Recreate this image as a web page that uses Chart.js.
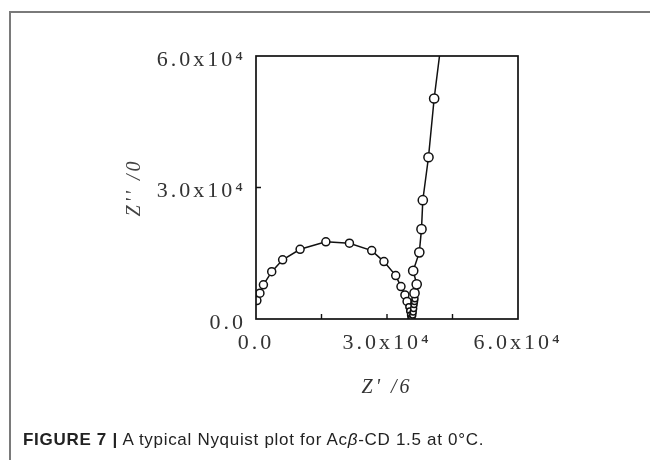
<!DOCTYPE html>
<html>
<head>
<meta charset="utf-8">
<script src="https://cdn.jsdelivr.net/npm/chart.js@4.4.1/dist/chart.umd.min.js"></script>
<style>
  html, body { margin: 0; padding: 0; background: #fff; }
  #wrap { position: relative; width: 650px; height: 460px; overflow: hidden; }
  #plot { position: absolute; left: 0; top: 0; }
  .frame {
    position: absolute; left: 9px; top: 11px; width: 660px; height: 470px;
    border-top: 2px solid #7a7a7a; border-left: 2px solid #7a7a7a;
  }
  .caption {
    position: absolute; left: 23px; top: 430px;
    font-family: "Liberation Sans", Arial, sans-serif; font-size: 17px; color: #222;
    letter-spacing: 0.7px; white-space: nowrap;
  }
  .caption b { font-weight: bold; }
</style>
</head>
<body>
<div id="wrap">
  <div class="frame"></div>
  <canvas id="plot" width="650" height="460"></canvas>
  <div class="caption"><b>FIGURE 7 |</b> A typical Nyquist plot for Ac<i>β</i>-CD 1.5 at 0°C.</div>
</div>
<script>
// impedance spectrum: real part Z' and imaginary part -Z'' (ohm)
const zReal = [
  200, 900, 1700, 3600, 6100, 10100, 16000, 21400, 26500, 29300, 32000, 33200, 34100,
  34600, 35000, 35200, 35400, 35500, 35700, 35900, 36000, 36100, 36200, 36300, 36400,
  36300, 36800, 36000, 37400, 37900, 38200, 39500, 40800, 42400
];
const zImag = [
  4200, 5900, 7800, 10800, 13500, 15900, 17600, 17300, 15600, 13100, 9900, 7400, 5500,
  4000, 2800, 1800, 900, 200, 300, 900, 1600, 2400, 3300, 4000, 4600,
  5900, 7900, 11000, 15200, 20500, 27100, 36900, 50300, 63000
];
const xTicks = [0, 15000, 30000, 45000, 60000];
const yTicks = [0, 30000, 60000];

const points = zReal.map((x, i) => ({ x: x, y: zImag[i] }));

function sciLabel(v) {
  if (v === 0) return '0.0';
  if (v % 30000 !== 0) return '';
  return (v / 10000).toFixed(1) + 'x10\u2074';
}

// closed box round the plot area with short inward tick marks
const boxAndTicks = {
  id: 'boxAndTicks',
  beforeDraw(chart) {
    chart.ctx.letterSpacing = '3px';
  },
  afterDatasetsDraw(chart) {
    const { ctx, chartArea: a, scales } = chart;
    ctx.save();
    ctx.strokeStyle = '#111';
    ctx.lineWidth = 1.7;
    ctx.strokeRect(a.left, a.top, a.right - a.left, a.bottom - a.top);
    ctx.lineWidth = 1.4;
    ctx.beginPath();
    scales.x.ticks.forEach(t => {
      const px = scales.x.getPixelForValue(t.value);
      if (px <= a.left + 1 || px >= a.right - 1) return;
      ctx.moveTo(px, a.bottom);
      ctx.lineTo(px, a.bottom - 5);
    });
    scales.y.ticks.forEach(t => {
      const py = scales.y.getPixelForValue(t.value);
      if (py <= a.top + 1 || py >= a.bottom - 1) return;
      ctx.moveTo(a.left, py);
      ctx.lineTo(a.left + 5, py);
    });
    ctx.stroke();
    ctx.restore();
  }
};

const serif = '"Liberation Serif", "Times New Roman", serif';

new Chart(document.getElementById('plot'), {
  type: 'scatter',
  data: {
    datasets: [{
      data: points,
      showLine: true,
      borderColor: '#111',
      borderWidth: 1.5,
      backgroundColor: '#fff',
      pointBorderColor: '#111',
      pointBackgroundColor: '#fff',
      pointBorderWidth: 1.5,
      pointRadius: ctx => {
        const i = ctx.dataIndex;
        if (i === zReal.length - 1) return 0;
        if (i >= 14 && i <= 24) return 3;
        return i > 24 ? 4.6 : 4;
      },
      tension: 0
    }]
  },
  options: {
    responsive: false,
    animation: false,
    layout: { padding: { left: 110, right: 132, top: 56, bottom: 51 } },
    plugins: {
      legend: { display: false },
      tooltip: { enabled: false }
    },
    scales: {
      x: {
        type: 'linear',
        min: 0,
        max: 60000,
        afterBuildTicks: s => { s.ticks = xTicks.map(v => ({ value: v })); },
        afterFit: s => { s.height = 90; },
        grid: { display: false, drawTicks: false },
        border: { display: false },
        ticks: {
          padding: 11,
          color: '#333',
          font: { family: serif, size: 22 },
          maxRotation: 0,
          autoSkip: false,
          callback: v => sciLabel(v)
        },
        title: {
          display: true,
          text: "Z' /6",
          color: '#333',
          padding: { top: 0, bottom: 9 },
          font: { family: serif, size: 20, style: 'italic' }
        }
      },
      y: {
        type: 'linear',
        min: 0,
        max: 60000,
        afterBuildTicks: s => { s.ticks = yTicks.map(v => ({ value: v })); },
        afterFit: s => { s.width = 146; },
        grid: { display: false, drawTicks: false },
        border: { display: false },
        ticks: {
          padding: 10,
          labelOffset: 4,
          color: '#333',
          font: { family: serif, size: 22 },
          autoSkip: false,
          callback: v => sciLabel(v)
        },
        title: {
          display: true,
          text: "Z'' /0",
          color: '#444',
          padding: { top: 13, bottom: 0 },
          font: { family: serif, size: 20, style: 'italic' }
        }
      }
    }
  },
  plugins: [boxAndTicks]
});
</script>
</body>
</html>
